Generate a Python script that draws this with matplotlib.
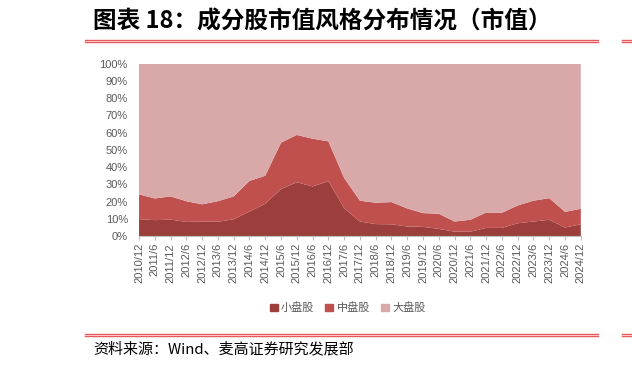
import numpy as np
import matplotlib.pyplot as plt
from matplotlib.lines import Line2D

plt.rcParams['font.family'] = ['Noto Sans CJK SC', 'DejaVu Sans']

### data (share of market value, %)
dates = ["2010/12", "2011/6", "2011/12", "2012/6", "2012/12", "2013/6", "2013/12",
         "2014/6", "2014/12", "2015/6", "2015/12", "2016/6", "2016/12", "2017/6",
         "2017/12", "2018/6", "2018/12", "2019/6", "2019/12", "2020/6", "2020/12",
         "2021/6", "2021/12", "2022/6", "2022/12", "2023/6", "2023/12", "2024/6",
         "2024/12"]
small_cap = [9.8, 9.2, 9.5, 8.2, 8.3, 8.3, 9.7, 14.2, 18.7, 27.3, 31.2, 28.8, 31.8,
             16.2, 8.4, 6.9, 6.8, 5.5, 5.3, 4.1, 2.5, 2.5, 4.7, 4.7, 7.4, 8.4, 9.4,
             4.9, 6.8]
small_mid_total = [24.2, 21.8, 23.0, 20.2, 18.4, 20.2, 23.0, 32.0, 35.0, 54.2, 58.7,
                   56.5, 55.0, 33.7, 20.5, 19.3, 19.7, 16.0, 13.3, 12.9, 8.4, 9.4,
                   13.6, 13.5, 17.7, 20.5, 22.0, 14.0, 15.8]
mid_cap = [t - s for t, s in zip(small_mid_total, small_cap)]
large_cap = [100 - t for t in small_mid_total]

c_small = '#9C3F3C'
c_mid = '#C0504D'
c_large = '#D9A9A9'

fig = plt.figure(figsize=(6.32, 3.67), dpi=100)
ax = fig.add_axes([0.22, 0.357, 0.699, 0.469])

x = np.arange(len(dates))
ax.stackplot(x, np.array(small_cap), np.array(mid_cap), np.array(large_cap),
             colors=[c_small, c_mid, c_large], edgecolor='none')
ax.set_xlim(0, len(dates) - 1)
ax.set_ylim(0, 100)
ax.set_xticks(x)
ax.set_xticklabels(dates, rotation=90, fontsize=8, color='#595959',
                   family='Liberation Sans')
ax.set_yticks(np.arange(0, 101, 10))
ax.set_yticklabels([f"{v}%" for v in range(0, 101, 10)], fontsize=8,
                   color='#595959', family='Liberation Sans')
ax.tick_params(axis='y', length=0, pad=8)
ax.tick_params(axis='x', length=3, color='#BFBFBF', pad=2)
for s in ['top', 'right', 'left']:
    ax.spines[s].set_visible(False)
ax.spines['bottom'].set_color('#BFBFBF')

handles = [plt.Rectangle((0, 0), 1, 1, color=c) for c in [c_small, c_mid, c_large]]
fig.legend(handles, ['小盘股', '中盘股', '大盘股'], loc='center',
           bbox_to_anchor=(0.55, 0.161), ncol=3, frameon=False, fontsize=8,
           handlelength=0.7, handleheight=0.7, handletextpad=0.3,
           columnspacing=1.0, labelcolor='#595959')

# title and decorative lines
fig.text(0.147, 0.94, '图表 18：成分股市值风格分布情况（市值）', fontsize=17,
         fontweight='bold', va='center', ha='left', color='black')
for yy in [0.891, 0.885]:
    fig.add_artist(Line2D([0.134, 0.946], [yy, yy], color='#E8595B', lw=1.0))
    fig.add_artist(Line2D([0.984, 1.0], [yy, yy], color='#E8595B', lw=1.0))
for yy in [0.090, 0.084]:
    fig.add_artist(Line2D([0.134, 0.946], [yy, yy], color='#E8595B', lw=1.0))
    fig.add_artist(Line2D([0.984, 1.0], [yy, yy], color='#E8595B', lw=1.0))
fig.text(0.147, 0.049, '资料来源：Wind、麦高证券研究发展部', fontsize=10.8,
         va='center', ha='left', color='black')

fig.savefig('out.png', dpi=100)
